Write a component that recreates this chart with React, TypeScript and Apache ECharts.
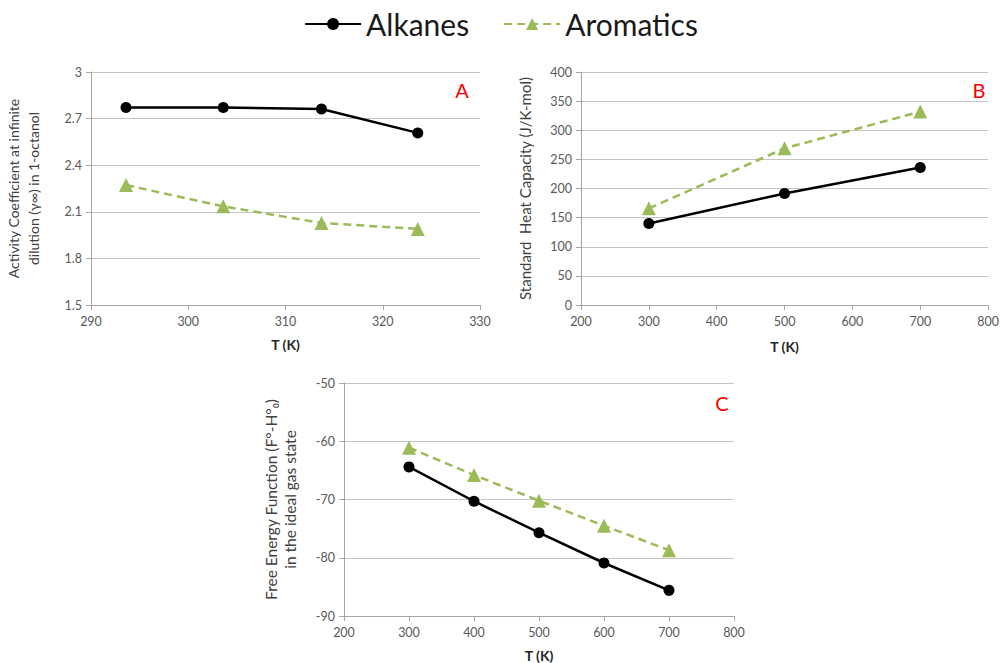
import React, { useEffect, useRef } from "react";
import * as echarts from "echarts";

// Panel A: activity coefficient at infinite dilution
const tempA = [293.6, 303.6, 313.7, 323.6];
const alkanesA = [2.771, 2.772, 2.762, 2.608];
const aromaticsA = [2.272, 2.135, 2.028, 1.99];

// Panel B: standard heat capacity
const tempB = [300, 500, 700];
const alkanesB = [140, 191.5, 236];
const aromaticsB = [166, 269, 332];

// Panel C: free energy function
const tempC = [300, 400, 500, 600, 700];
const alkanesC = [-64.4, -70.3, -75.7, -80.9, -85.6];
const aromaticsC = [-61.1, -65.8, -70.2, -74.5, -78.7];

const seriesNames = ["Alkanes", "Aromatics"];
const panelLetters = ["A", "B", "C"];
const xName = "T (K)";
const yNames = [
  "Activity Coefficient at infinite\ndilution (\u03b3\u221e) in 1-octanol",
  "Standard  Heat Capacity (J/K-mol)",
  "Free Energy Function (F\u00b0-H\u00b0\u2080)\nin the ideal gas state",
];

const FONT = 'Lato, "Open Sans", "DejaVu Sans", sans-serif';
const GREEN = "#9bbb59";
const LABEL = "#595959";

const zip = (xs: number[], ys: number[]) => xs.map((x, i) => [x, ys[i]]);

export default function App() {
  const ref = useRef<HTMLDivElement>(null);
  useEffect(() => {
    if (!ref.current) return;
    const chart = echarts.init(ref.current, null, { renderer: "svg" });

    const axisCommon = {
      axisLine: { show: true, lineStyle: { color: "#a6a6a6", width: 1 } },
      axisTick: { show: true, length: 5, lineStyle: { color: "#a6a6a6" } },
      axisLabel: { color: LABEL, fontSize: 12.5, fontFamily: FONT },
    };
    const xAxisOf = (gi: number, min: number, max: number, interval: number, gap: number) => ({
      type: "value",
      gridIndex: gi,
      min,
      max,
      interval,
      ...axisCommon,
      axisLabel: { ...axisCommon.axisLabel, margin: 10 },
      splitLine: { show: false },
      name: xName,
      nameLocation: "middle",
      nameGap: gap,
      nameTextStyle: { color: "#262626", fontSize: 14, fontWeight: "bold", fontFamily: FONT },
    });
    const yAxisOf = (
      gi: number,
      min: number,
      max: number,
      interval: number,
      gap: number,
      name: string,
      fs: number
    ) => ({
      type: "value",
      gridIndex: gi,
      min,
      max,
      interval,
      ...axisCommon,
      axisLabel: { ...axisCommon.axisLabel, margin: 9 },
      splitLine: { show: true, lineStyle: { color: "#c4c4c4", width: 1 } },
      name,
      nameLocation: "middle",
      nameRotate: 90,
      nameGap: gap,
      nameTextStyle: { color: "#404040", fontSize: fs, fontFamily: FONT, lineHeight: 19.5 },
    });

    const alk = (xi: number, xs: number[], ys: number[]) => ({
      name: seriesNames[0],
      type: "line",
      xAxisIndex: xi,
      yAxisIndex: xi,
      data: zip(xs, ys),
      symbol: "circle",
      symbolSize: 11,
      lineStyle: { color: "#000", width: 2.5 },
      itemStyle: { color: "#000" },
    });
    const aro = (xi: number, xs: number[], ys: number[]) => ({
      name: seriesNames[1],
      type: "line",
      xAxisIndex: xi,
      yAxisIndex: xi,
      data: zip(xs, ys),
      symbol: "triangle",
      symbolSize: 14,
      lineStyle: { color: GREEN, width: 2.5, type: [8, 5] },
      itemStyle: { color: GREEN },
    });

    const letter = (txt: string, x: number, y: number) => ({
      type: "text",
      x,
      y,
      style: {
        text: txt,
        fill: "#ff0000",
        font: `20px ${FONT}`,
        textAlign: "center",
        textVerticalAlign: "middle",
      },
    });

    chart.setOption({
      animation: false,
      backgroundColor: "#ffffff",
      legend: {
        top: 4,
        left: "center",
        itemWidth: 56,
        itemHeight: 15,
        itemGap: 34,
        textStyle: { fontSize: 30, color: "#1a1a1a", fontFamily: FONT },
        data: seriesNames,
      },
      grid: [
        { left: 91, right: 522, top: 72, bottom: 358 },
        { left: 581, right: 11, top: 72, bottom: 358 },
        { left: 344, right: 268, top: 383, bottom: 46 },
      ],
      xAxis: [
        xAxisOf(0, 290, 330, 10, 32),
        xAxisOf(1, 200, 800, 100, 34),
        xAxisOf(2, 200, 800, 100, 32),
      ],
      yAxis: [
        yAxisOf(0, 1.5, 3, 0.3, 48, yNames[0], 14),
        yAxisOf(1, 0, 400, 50, 46, yNames[1], 15),
        yAxisOf(2, -90, -50, 10, 44, yNames[2], 15.5),
      ],
      graphic: [
        letter(panelLetters[0], 462, 90),
        letter(panelLetters[1], 979, 90),
        letter(panelLetters[2], 722, 403),
      ],
      series: [
        alk(0, tempA, alkanesA),
        aro(0, tempA, aromaticsA),
        alk(1, tempB, alkanesB),
        aro(1, tempB, aromaticsB),
        alk(2, tempC, alkanesC),
        aro(2, tempC, aromaticsC),
      ],
    });
    return () => chart.dispose();
  }, []);
  return (
    <div
      ref={ref}
      style={{ position: "fixed", left: 0, top: 0, width: 1002, height: 663, background: "#fff" }}
    />
  );
}
